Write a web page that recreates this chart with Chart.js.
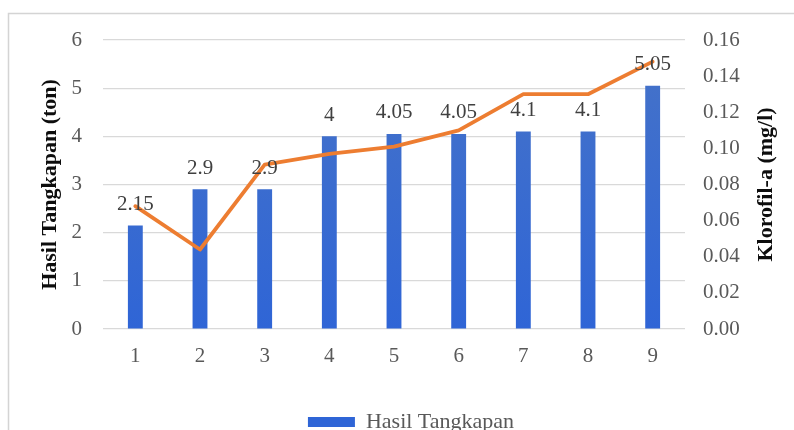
<!DOCTYPE html>
<html>
<head>
<meta charset="utf-8">
<script src="https://cdn.jsdelivr.net/npm/chart.js@4/dist/chart.umd.min.js"></script>
<style>
  html, body { margin: 0; padding: 0; background: #ffffff; overflow: hidden; }
  #wrap { position: relative; width: 794px; height: 443px; }
</style>
</head>
<body>
<div id="wrap"><canvas id="chart" width="794" height="443"></canvas></div>
<script>
// Stasiun pengamatan
const categories = ['1', '2', '3', '4', '5', '6', '7', '8', '9'];
// Hasil tangkapan (ton) per stasiun
const hasilTangkapan = [2.15, 2.9, 2.9, 4, 4.05, 4.05, 4.1, 4.1, 5.05];
// Konsentrasi klorofil-a (mg/l) per stasiun
const klorofilA = [0.068, 0.044, 0.091, 0.097, 0.101, 0.110, 0.130, 0.130, 0.148];
// Tick sumbu kiri dan kanan
const tangkapanTicks = [0, 1, 2, 3, 4, 5, 6];
const klorofilTicks = [0, 0.02, 0.04, 0.06, 0.08, 0.10, 0.12, 0.14, 0.16];

const SERIF = "'Liberation Serif', 'Times New Roman', serif";
const TICK_COLOR = '#595959';
const NUM_SIZE = 21;
const TEXT_SIZE = 22;

// Bingkai tipis di sisi kiri dan atas
const framePlugin = {
  id: 'frame',
  beforeDraw(chart) {
    const ctx = chart.ctx;
    ctx.save();
    ctx.fillStyle = '#ffffff';
    ctx.fillRect(0, 0, chart.width, chart.height);
    ctx.strokeStyle = '#d4d4d4';
    ctx.lineWidth = 1.5;
    ctx.beginPath();
    ctx.moveTo(8.5, chart.height);
    ctx.lineTo(8.5, 13.5);
    ctx.lineTo(chart.width, 13.5);
    ctx.stroke();
    ctx.restore();
  }
};

// Label nilai di atas batang
const valueLabelPlugin = {
  id: 'valueLabels',
  afterDatasetsDraw(chart) {
    const ctx = chart.ctx;
    const meta = chart.getDatasetMeta(0);
    ctx.save();
    ctx.font = NUM_SIZE + 'px ' + SERIF;
    ctx.fillStyle = '#404040';
    ctx.textAlign = 'center';
    ctx.textBaseline = 'middle';
    meta.data.forEach((bar, i) => {
      ctx.fillText(String(hasilTangkapan[i]), bar.x, bar.y - 21);
    });
    ctx.restore();
  }
};

// Judul sumbu kanan, dibaca dari bawah ke atas
const rightTitlePlugin = {
  id: 'rightTitle',
  afterDraw(chart) {
    const area = chart.chartArea;
    const ctx = chart.ctx;
    ctx.save();
    ctx.translate(766, (area.top + area.bottom) / 2);
    ctx.rotate(-Math.PI / 2);
    ctx.font = 'bold ' + TEXT_SIZE + 'px ' + SERIF;
    ctx.fillStyle = '#0d0d0d';
    ctx.textAlign = 'center';
    ctx.textBaseline = 'middle';
    ctx.fillText('Klorofil-a (mg/l)', 0, 0);
    ctx.restore();
  }
};

const ctx = document.getElementById('chart').getContext('2d');

new Chart(ctx, {
  data: {
    labels: categories,
    datasets: [
      {
        type: 'bar',
        label: 'Hasil Tangkapan',
        data: hasilTangkapan,
        yAxisID: 'yTon',
        order: 2,
        backgroundColor(context) {
          const area = context.chart.chartArea;
          if (!area) return '#3d6fcf';
          const g = context.chart.ctx.createLinearGradient(0, area.top, 0, area.bottom);
          g.addColorStop(0, '#4673c8');
          g.addColorStop(1, '#2f65d6');
          return g;
        },
        borderWidth: 0,
        barPercentage: 0.23,
        categoryPercentage: 1.0
      },
      {
        type: 'line',
        label: 'Klorofil-a',
        data: klorofilA,
        yAxisID: 'yKlorofil',
        order: 1,
        borderColor: '#ed7d31',
        backgroundColor: '#ed7d31',
        borderWidth: 3.8,
        pointRadius: 0,
        tension: 0,
        borderCapStyle: 'round',
        borderJoinStyle: 'round'
      }
    ]
  },
  options: {
    responsive: false,
    animation: false,
    devicePixelRatio: 1,
    layout: { padding: { top: 40, left: 28, right: 0, bottom: 0 } },
    plugins: {
      legend: {
        position: 'bottom',
        labels: {
          font: { family: SERIF, size: TEXT_SIZE },
          color: TICK_COLOR,
          boxWidth: 47,
          boxHeight: 10,
          padding: 10,
          filter: item => item.datasetIndex === 0
        }
      },
      tooltip: { enabled: false }
    },
    scales: {
      x: {
        grid: { display: false, drawTicks: false },
        border: { display: false },
        ticks: {
          font: { family: SERIF, size: NUM_SIZE },
          color: TICK_COLOR,
          padding: 15
        },
        afterFit(scale) { scale.height = 72; }
      },
      yTon: {
        position: 'left',
        min: tangkapanTicks[0],
        max: tangkapanTicks[tangkapanTicks.length - 1],
        afterBuildTicks(scale) { scale.ticks = tangkapanTicks.map(v => ({ value: v })); },
        grid: { color: '#d9d9d9', lineWidth: 1.2, drawTicks: false },
        border: { display: false },
        ticks: {
          font: { family: SERIF, size: NUM_SIZE },
          color: TICK_COLOR,
          padding: 21
        },
        title: {
          display: true,
          text: 'Hasil Tangkapan (ton)',
          font: { family: SERIF, size: TEXT_SIZE, weight: 'bold' },
          color: '#0d0d0d',
          padding: { top: 9, bottom: 0 }
        },
        afterFit(scale) { scale.width = 75; }
      },
      yKlorofil: {
        position: 'right',
        min: klorofilTicks[0],
        max: klorofilTicks[klorofilTicks.length - 1],
        afterBuildTicks(scale) { scale.ticks = klorofilTicks.map(v => ({ value: v })); },
        grid: { display: false, drawTicks: false },
        border: { display: false },
        ticks: {
          font: { family: SERIF, size: NUM_SIZE },
          color: TICK_COLOR,
          padding: 18,
          callback: v => Number(v).toFixed(2)
        },
        afterFit(scale) { scale.width = 109; }
      }
    }
  },
  plugins: [framePlugin, valueLabelPlugin, rightTitlePlugin]
});
</script>
</body>
</html>
